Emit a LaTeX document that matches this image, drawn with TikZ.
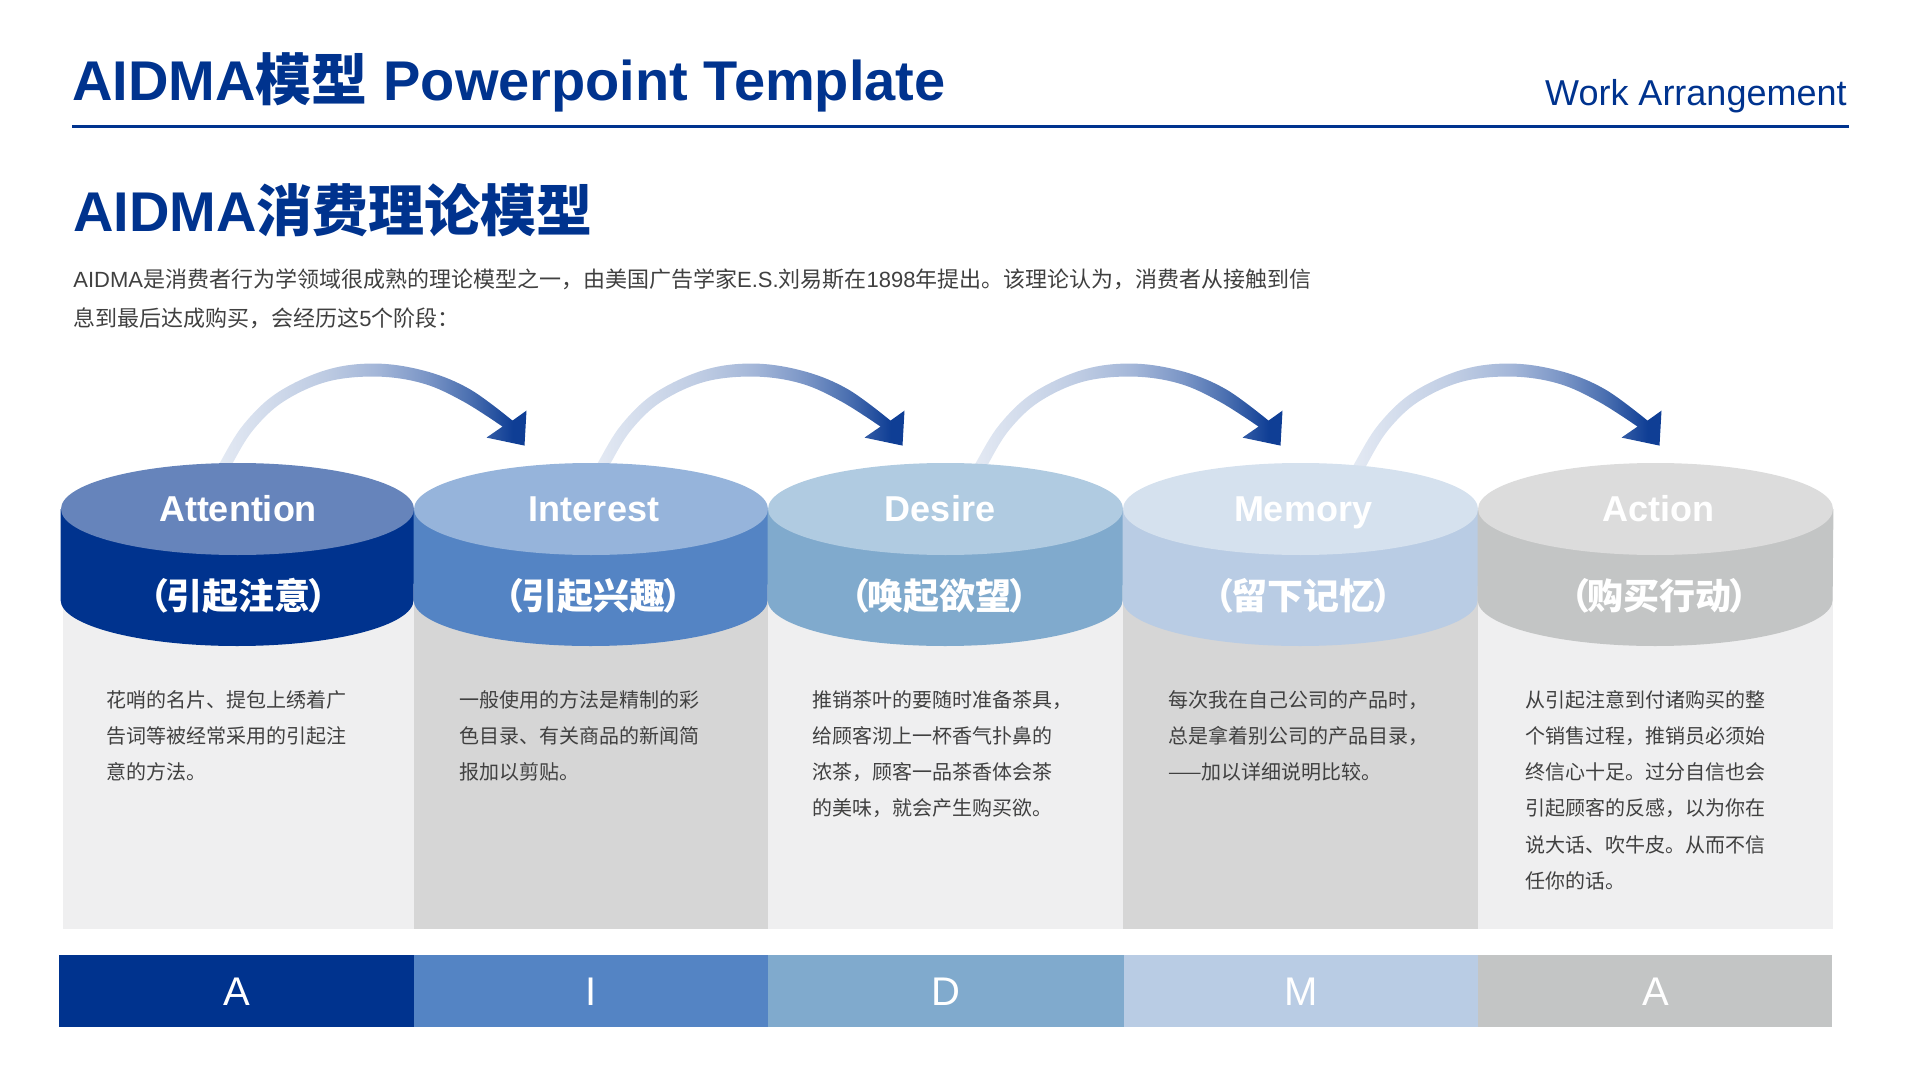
\documentclass[tikz,border=0pt]{standalone}
\usepackage{fontspec}
\usetikzlibrary{shapes.geometric,calc}
\setmainfont{Liberation Sans}
\newfontfamily\cjk{Noto Sans CJK SC}
\newcommand{\zh}[1]{{\cjk #1}}
\definecolor{navy}{HTML}{00338E}
\definecolor{bodytext}{HTML}{404040}
\definecolor{panelA}{HTML}{EFEFF0}
\definecolor{panelB}{HTML}{D6D6D6}
\definecolor{sideA}{HTML}{00338E}\definecolor{lidA}{HTML}{6684BB}
\definecolor{sideB}{HTML}{5484C4}\definecolor{lidB}{HTML}{96B4DB}
\definecolor{sideC}{HTML}{80AACD}\definecolor{lidC}{HTML}{B0CBE1}
\definecolor{sideD}{HTML}{B9CCE4}\definecolor{lidD}{HTML}{D5E1EE}
\definecolor{sideE}{HTML}{C3C5C5}\definecolor{lidE}{HTML}{DCDCDC}
\definecolor{gradA}{HTML}{E3E9F3}
\definecolor{gradB}{HTML}{BCCAE2}
\definecolor{gradC}{HTML}{A3B6D8}
\definecolor{gradD}{HTML}{7A95C6}
\definecolor{gradE}{HTML}{4A6FB0}
\definecolor{gradF}{HTML}{0F3E95}
\pgfdeclarehorizontalshading{arrowgrad}{100bp}{
  color(0bp)=(gradA); color(26.4bp)=(gradA); color(43.4bp)=(gradB); color(51.3bp)=(gradC);
  color(59.3bp)=(gradD); color(66.1bp)=(gradE); color(72.8bp)=(gradF); color(100bp)=(gradF)}
\pgfdeclarelayer{background}
\pgfsetlayers{background,main}
\tikzset{
  headline/.style={anchor=base west,inner sep=0pt,text=navy,font=\fontsize{28pt}{30pt}\selectfont\bfseries},
  intro/.style={anchor=base west,inner sep=0pt,text=bodytext,font=\fontsize{11pt}{13pt}\selectfont},
  panelbox/.style={rectangle,inner sep=0pt},
  lid/.style={ellipse,inner sep=0pt,minimum height=46pt},
  lidlabel/.style={anchor=base,inner sep=0pt,text=white,font=\fontsize{18pt}{20pt}\selectfont\bfseries},
  sublabel/.style={anchor=center,inner sep=0pt,text=white,font=\fontsize{18pt}{20pt}\selectfont\bfseries\cjk},
  bodynote/.style={anchor=north west,inner sep=0pt,align=left,text=bodytext,font=\fontsize{10pt}{18.1pt}\selectfont\cjk},
  barbox/.style={rectangle,inner sep=0pt,minimum height=36pt},
  barletter/.style={anchor=center,inner sep=0pt,text=white,font=\fontsize{20pt}{22pt}\selectfont}
}
\begin{document}
\begin{tikzpicture}[x=0.5pt,y=-0.5pt]
\useasboundingbox (0,0) rectangle (1920,1080);
% header
\node[headline] (title) at (72,101) {AIDMA\zh{模型} Powerpoint Template};
\node[anchor=base east,inner sep=0pt,text=navy,font=\fontsize{18pt}{20pt}\selectfont] (work) at (1847,106) {Work Arrangement};
\coordinate (ruleL) at (72,126.5);
\coordinate (ruleR) at (1849,126.5);
\draw[navy,line width=1.5pt] (ruleL) -- (ruleR);
\node[headline] (sub) at (73,232) {AIDMA\zh{消费理论模型}};
\node[intro] (introA) at (73,287.5) {AIDMA\zh{是消费者行为学领域很成熟的理论模型之一，由美国广告学家}E.S.\zh{刘易斯在}1898\zh{年提出。该理论认为，消费者从接触到信}};
\node[intro] (introB) at (73,327) {\zh{息到最后达成购买，会经历这}5\zh{个阶段：}};
% columns
\foreach \i/\a/\b/\pc/\side/\lidc/\lx/\name/\sx/\subt/\tx/\txt/\bx/\be/\bl/\le in {
 1/61/414/panelA/sideA/lidA/238/Attention/238/引起注意/106/{花哨的名片、提包上绣着广\\告词等被经常采用的引起注\\意的方法。}/59/414/237/A,
 2/414/768/panelB/sideB/lidB/594/Interest/593/引起兴趣/459/{一般使用的方法是精制的彩\\色目录、有关商品的新闻简\\报加以剪贴。}/414/768/591/I,
 3/768/1123/panelA/sideC/lidC/940/Desire/939/唤起欲望/812/{推销茶叶的要随时准备茶具，\\给顾客沏上一杯香气扑鼻的\\浓茶，顾客一品茶香体会茶\\的美味，就会产生购买欲。}/768/1124/946/D,
 4/1123/1478/panelB/sideD/lidD/1303/Memory/1303/留下记忆/1168/{每次我在自己公司的产品时，\\总是拿着别公司的产品目录，\\——加以详细说明比较。}/1124/1478/1301/M,
 5/1478/1833/panelA/sideE/lidE/1658/Action/1659/购买行动/1525/{从引起注意到付诸购买的整\\个销售过程，推销员必须始\\终信心十足。过分自信也会\\引起顾客的反感，以为你在\\说大话、吹牛皮。从而不信\\任你的话。}/1478/1832/1656/A}
{
  \pgfmathsetmacro{\pa}{\i==1 ? 63 : \a}
  \node[lid,fill=\lidc,minimum width={(\b-\a)*0.5pt}] (top\i) at ({(\a+\b)/2},509) {};
  \node[lidlabel] (name\i) at (\lx,521) {\name};
  \node[sublabel] (subt\i) at (\sx,596) {（\kern-1.5pt\subt\kern-1.5pt）};
  \node[bodynote] (note\i) at (\tx,690) {\txt};
  \node[barbox,fill=\side,minimum width={(\be-\bx)*0.5pt}] (bar\i) at ({(\bx+\be)/2},991) {};
  \node[barletter] (letter\i) at (\bl,992) {\le};
  \begin{pgfonlayer}{background}
    \node[panelbox,fill=\pc,minimum width={(\b-\pa)*0.5pt},minimum height=184.5pt] (panel\i) at ({(\pa+\b)/2},744.5) {};
    \fill[\side] (top\i.west) -- ++(0,91) arc[start angle=180,end angle=360,x radius={(\b-\a)*0.25pt},y radius=23pt] -- (top\i.east) -- cycle;
  \end{pgfonlayer}
}
% arrows
\begin{pgfonlayer}{background}
\foreach \i/\off in {1/-17,2/7.5,3/31,4/55}{
  \coordinate (arrowstart\i) at ($(top\i.north)+(\off,0)$);
  \begin{scope}[shift={(arrowstart\i)}]
    \shade[shading=arrowgrad]
      plot[smooth,tension=.6] coordinates {(-9,17) (0,-1) (23,-38) (57,-70) (107,-93) (157,-99) (207,-91) (250,-73) (292,-42)}
      -- (306,-52) -- (304,-17) -- (266,-25) -- (282,-36)
      -- plot[smooth,tension=.6] coordinates {(282,-36) (243,-61) (203,-79) (157,-86) (107,-81) (63,-61) (33,-33) (13,-1) (5,17)}
      -- cycle;
  \end{scope}
}
\end{pgfonlayer}
\end{tikzpicture}
\end{document}
